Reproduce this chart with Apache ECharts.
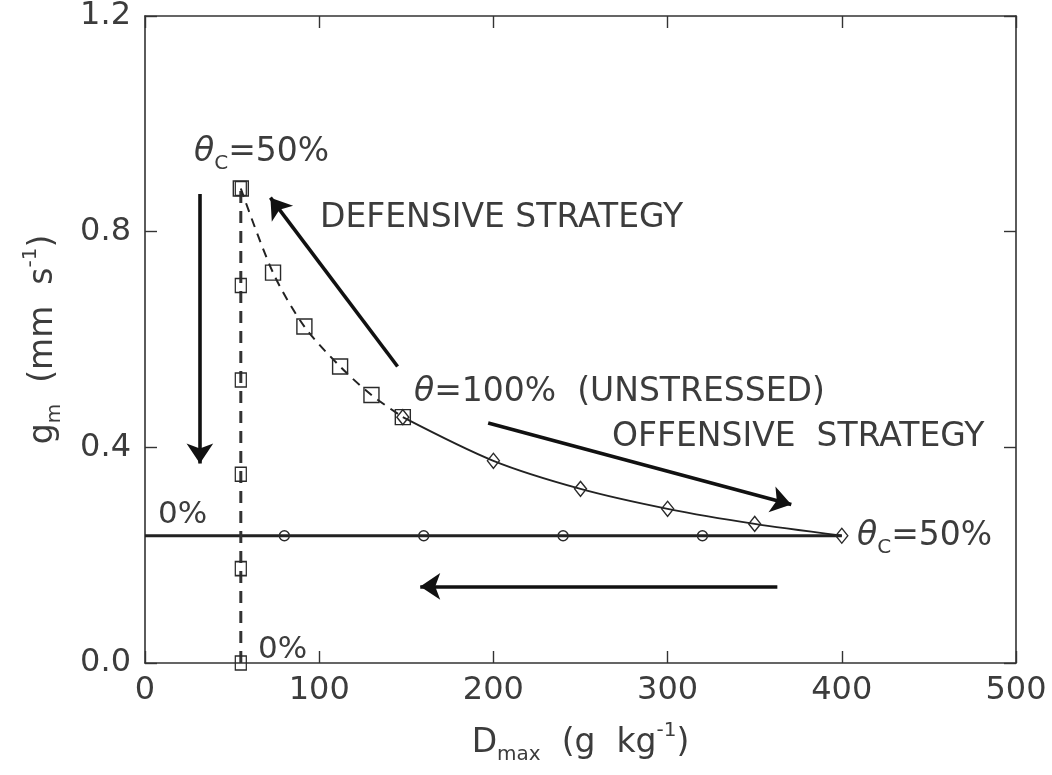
<!DOCTYPE html>
<html>
<head>
<meta charset="utf-8">
<script src="https://cdn.jsdelivr.net/npm/echarts@6/dist/echarts.min.js"></script>
<style>
html,body{margin:0;padding:0;background:#fff;}
#chart{width:1052px;height:775px;}
</style>
</head>
<body>
<div id="chart"></div>
<script>
// ---- data ----
const xTickValues = [0, 100, 200, 300, 400, 500];
const yTickLabels = ['0.0', '0.4', '0.8', '1.2'];

// vertical dashed branch (stomatal closure, defensive) at Dmax ~ 55
const vertD = [55, 55, 55, 55, 55, 55];
const vertG = [0.0, 0.175, 0.35, 0.525, 0.70, 0.88];

// defensive strategy curve (dashed, squares)
const defD = [55, 73.5, 91.5, 112, 130, 148];
const defG = [0.88, 0.724, 0.624, 0.550, 0.497, 0.456];

// offensive strategy curve (solid, diamonds)
const offD = [148, 200, 250, 300, 350, 400];
const offG = [0.456, 0.375, 0.323, 0.286, 0.258, 0.236];

// horizontal branch (solid, circles)
const horD = [0, 80, 160, 240, 320, 400];
const horG = [0.236, 0.236, 0.236, 0.236, 0.236, 0.236];

// arrows: [x1, y1, x2, y2] in data units (tail -> head)
const arrowVert = [31.5, 0.87, 31.5, 0.37];
const arrowDef = [145, 0.55, 72, 0.863];
const arrowOff = [197, 0.445, 371, 0.294];
const arrowBot = [363, 0.142, 158, 0.142];

const TXT = '#3c3c3c';
const FONT = "'DejaVu Sans', 'Liberation Sans', sans-serif";

const zip = (a, b) => a.map((v, i) => [v, b[i]]);

const chart = echarts.init(document.getElementById('chart'), null, {renderer: 'canvas'});

const hollow = {color: 'rgba(0,0,0,0)', borderColor: '#2a2a2a', borderWidth: 1.4};

const nameRich = {
  m: {fontSize: 33, lineHeight: 44, color: TXT, fontFamily: FONT},
  s: {fontSize: 20, lineHeight: 20, verticalAlign: 'bottom', color: TXT, fontFamily: FONT},
  p: {fontSize: 20, lineHeight: 20, verticalAlign: 'top', color: TXT, fontFamily: FONT}
};

const option = {
  backgroundColor: '#fff',
  animation: false,
  textStyle: {fontFamily: FONT},
  grid: {left: 145, right: 36, top: 13, bottom: 112, containLabel: false},
  xAxis: [{
    type: 'value', min: 0, max: 500, interval: 100, position: 'bottom',
    axisLine: {show: true, onZero: false, lineStyle: {color: '#333', width: 1.6}},
    axisTick: {show: true, inside: true, length: 12, lineStyle: {color: '#333', width: 1.4}},
    axisLabel: {fontSize: 32, color: TXT, margin: 12, fontFamily: FONT,
      formatter: v => String(xTickValues.find(t => t === v) ?? v)},
    splitLine: {show: false},
    name: '{m|D}{s|max}{m|  (g  kg}{p|-1}{m|)}',
    nameLocation: 'middle', nameGap: 58,
    nameTextStyle: {fontFamily: FONT, color: TXT, rich: nameRich}
  }, {
    type: 'value', min: 0, max: 500, interval: 100, position: 'top',
    axisLine: {show: true, onZero: false, lineStyle: {color: '#333', width: 1.6}},
    axisTick: {show: true, inside: true, length: 12, lineStyle: {color: '#333', width: 1.4}},
    axisLabel: {show: false}, splitLine: {show: false}
  }],
  yAxis: [{
    type: 'value', min: 0, max: 1.2, interval: 0.4, position: 'left',
    axisLine: {show: true, onZero: false, lineStyle: {color: '#333', width: 1.6}},
    axisTick: {show: true, inside: true, length: 12, lineStyle: {color: '#333', width: 1.4}},
    axisLabel: {fontSize: 32, color: TXT, margin: 14, fontFamily: FONT,
      formatter: v => yTickLabels[Math.round(v / 0.4)]},
    splitLine: {show: false},
    name: '{m|g}{s|m}{m|  (mm  s}{p|-1}{m|)}',
    nameLocation: 'middle', nameGap: 80, nameRotate: 90,
    nameTextStyle: {fontFamily: FONT, color: TXT, rich: nameRich}
  }, {
    type: 'value', min: 0, max: 1.2, interval: 0.4, position: 'right',
    axisLine: {show: true, onZero: false, lineStyle: {color: '#333', width: 1.6}},
    axisTick: {show: true, inside: true, length: 12, lineStyle: {color: '#333', width: 1.4}},
    axisLabel: {show: false}, splitLine: {show: false}
  }],
  series: [
    {
      name: 'horizontal', type: 'line', xAxisIndex: 0, yAxisIndex: 0,
      data: zip(horD, horG).map((p, i) => ({value: p,
        symbol: (i === 0 || i === horD.length - 1) ? 'none' : 'circle'})),
      symbolSize: 10, showSymbol: true,
      lineStyle: {color: '#222', width: 2.8},
      itemStyle: hollow,
      silent: true, z: 3,
      markLine: {
        silent: true, symbol: ['none', 'arrow'], symbolSize: 20,
        label: {show: false}, emphasis: {disabled: true},
        lineStyle: {color: '#111', width: 3.6, type: 'solid'},
        data: [arrowVert, arrowDef, arrowOff, arrowBot].map(a => [
          {coord: [a[0], a[1]]}, {coord: [a[2], a[3]]}
        ])
      }
    },
    {
      name: 'vertical', type: 'line',
      data: zip(vertD, vertG),
      symbol: 'rect', symbolSize: [11, 14], showSymbol: true,
      lineStyle: {color: '#333', width: 3, type: [12, 8]},
      itemStyle: hollow, silent: true, z: 4
    },
    {
      name: 'defensive', type: 'line',
      data: zip(defD, defG),
      smooth: 0.3,
      symbol: 'rect', symbolSize: 15, showSymbol: true,
      lineStyle: {color: '#222', width: 2, type: [9, 7]},
      itemStyle: hollow, silent: true, z: 4
    },
    {
      name: 'offensive', type: 'line',
      data: zip(offD, offG),
      smooth: 0.3,
      symbol: 'diamond', symbolSize: [12, 15], showSymbol: true,
      lineStyle: {color: '#222', width: 1.8},
      itemStyle: hollow, silent: true, z: 5
    }
  ],
  graphic: [
    {type: 'text', x: 194, y: 152, style: {
      text: '{t|θ}{s|C}{m|=50%}', verticalAlign: 'middle', align: 'left',
      rich: {
        t: {fontSize: 33, fontStyle: 'italic', fill: TXT, fontFamily: FONT, lineHeight: 44},
        s: {fontSize: 20, lineHeight: 20, verticalAlign: 'bottom', fill: TXT, fontFamily: FONT},
        m: {fontSize: 33, fill: TXT, fontFamily: FONT, lineHeight: 44}
      }}},
    {type: 'text', x: 320, y: 218, style: {
      text: 'DEFENSIVE STRATEGY', fontSize: 33, fill: TXT, fontFamily: FONT,
      verticalAlign: 'middle', align: 'left'}},
    {type: 'text', x: 414, y: 392, style: {
      text: '{t|θ}{m|=100%  (UNSTRESSED)}', verticalAlign: 'middle', align: 'left',
      rich: {
        t: {fontSize: 33, fontStyle: 'italic', fill: TXT, fontFamily: FONT},
        m: {fontSize: 33, fill: TXT, fontFamily: FONT}
      }}},
    {type: 'text', x: 612, y: 437, style: {
      text: 'OFFENSIVE  STRATEGY', fontSize: 33, fill: TXT, fontFamily: FONT,
      verticalAlign: 'middle', align: 'left'}},
    {type: 'text', x: 857, y: 536, style: {
      text: '{t|θ}{s|C}{m|=50%}', verticalAlign: 'middle', align: 'left',
      rich: {
        t: {fontSize: 33, fontStyle: 'italic', fill: TXT, fontFamily: FONT, lineHeight: 44},
        s: {fontSize: 20, lineHeight: 20, verticalAlign: 'bottom', fill: TXT, fontFamily: FONT},
        m: {fontSize: 33, fill: TXT, fontFamily: FONT, lineHeight: 44}
      }}},
    {type: 'text', x: 158, y: 515, style: {
      text: '0%', fontSize: 31, fill: TXT, fontFamily: FONT,
      verticalAlign: 'middle', align: 'left'}},
    {type: 'text', x: 258, y: 650, style: {
      text: '0%', fontSize: 31, fill: TXT, fontFamily: FONT,
      verticalAlign: 'middle', align: 'left'}}
  ]
};

chart.setOption(option);
</script>
</body>
</html>
